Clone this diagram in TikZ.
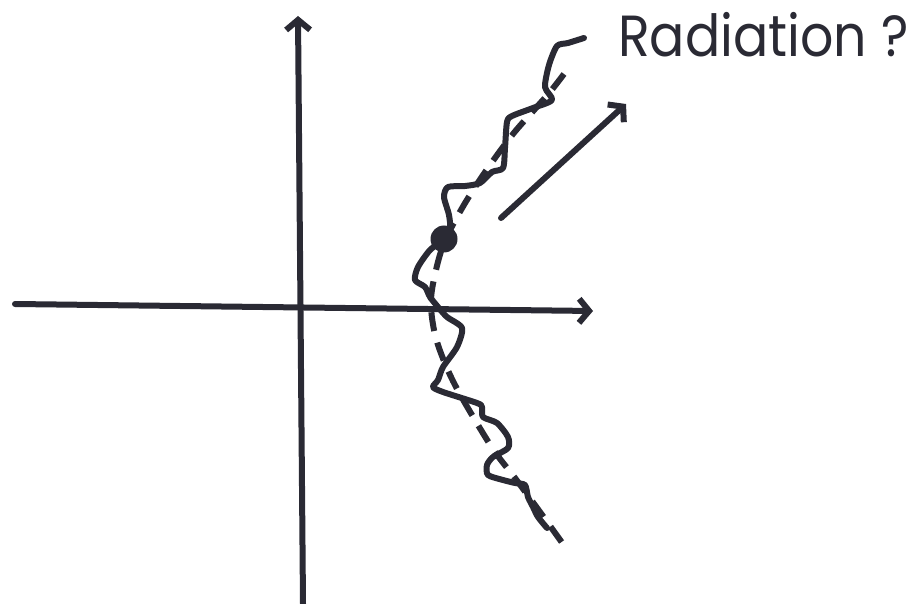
\documentclass[tikz,border=0pt]{standalone}
\usepackage{fontspec}
\setmainfont{Poppins}
\usetikzlibrary{arrows.meta}
\definecolor{ink}{RGB}{42,42,52}
\tikzset{
  ink line/.style={draw=ink, line width=6pt, line cap=round, line join=round},
  axis arrow/.style={ink line, -{Straight Barb[length=10pt,width=24pt,line width=6pt]}},
  dashcurve/.style={draw=ink, line width=6pt, dash pattern=on 19pt off 12pt},
  dotnode/.style={circle, fill=ink, inner sep=0pt, minimum size=27pt},
  label/.style={text=ink, font=\fontsize{58}{60}\selectfont, inner sep=0pt, anchor=base west}
}
\begin{document}
\begin{tikzpicture}[x=1pt,y=-1pt]
\useasboundingbox (0,0) rectangle (922,604);
% axes
\coordinate (ybot) at (303,604);
\coordinate (ytop) at (298,16);
\coordinate (xleft) at (15,304);
\coordinate (xright) at (593,311);
\draw[axis arrow] (ybot) -- (ytop);
\draw[axis arrow] (xleft) -- (xright);
% dashed curve
\draw[dashcurve] plot[smooth, tension=0.6] coordinates {
 (564,74) (550,92) (535,109) (513,134) (490,165) (470,195) (456,219) (444,243)
 (436,270) (431,300) (434,330) (442,356) (455,385) (475,420) (495,452) (515,478) (540,512) (563,544)};
% wiggly path
\draw[ink line] plot[smooth, tension=0.45] coordinates {
 (584,38) (568,43) (557,46) (549,65) (545,87) (552,100) (533,108) (512,116) (507,122)
 (505,148) (503,168) (492,172) (480,183) (465,186) (448,187) (444,197) (449,215)
 (450,230) (443,240) (430,250) (418,267) (415,280) (425,287) (430,297) (438,307)
 (447,317) (462,328) (457,347) (443,367) (438,380) (433,387) (443,392) (477,403)
 (482,407) (483,417) (497,423) (508,437) (508,448) (493,457) (487,465) (488,475)
 (503,480) (515,483) (525,485) (528,497) (533,507) (538,517) (547,528)};
% dot
\node[dotnode] (dot) at (444,239) {};
% radiation arrow
\coordinate (rstart) at (501,218);
\coordinate (rend) at (626,104);
\draw[axis arrow] (rstart) -- (rend);
% label
\node[label] (lab) at (618,57) {\scalebox{0.9}[1]{Radiation ?}};
\end{tikzpicture}
\end{document}
